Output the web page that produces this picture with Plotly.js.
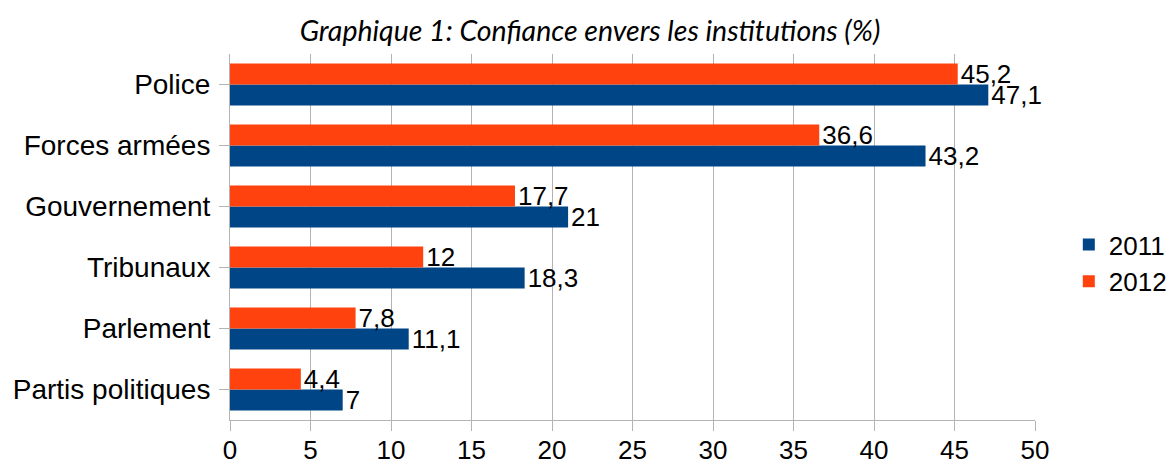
<!DOCTYPE html>
<html><head><meta charset="utf-8">
<script src="https://cdn.plot.ly/plotly-3.0.1.min.js"></script>
<style>body{margin:0;background:#fff}#chart{width:1173px;height:466px}</style>
</head><body><div id="chart"></div>
<script>
const categories = ["Partis politiques","Parlement","Tribunaux","Gouvernement","Forces armées","Police"];
const values2011 = [7, 11.1, 18.3, 21, 43.2, 47.1];
const values2012 = [4.4, 7.8, 12, 17.7, 36.6, 45.2];
const seriesNames = ["2011","2012"];
const xTicks = [0,5,10,15,20,25,30,35,40,45,50];

const fmt = v => String(v).replace('.', ',');
const fam = "Liberation Sans, Arial, sans-serif";
const font = {family: fam, size: 26, color: "#000"};

const traces = [
  {type:'bar', orientation:'h', name:seriesNames[0], y:categories, x:values2011,
   marker:{color:'#004586'}, text:values2011.map(fmt), textposition:'outside', constraintext:'none',
   textfont:font, cliponaxis:false, hoverinfo:'none'},
  {type:'bar', orientation:'h', name:seriesNames[1], y:categories, x:values2012,
   marker:{color:'#ff420e'}, text:values2012.map(fmt), textposition:'outside', constraintext:'none',
   textfont:font, cliponaxis:false, hoverinfo:'none'}
];

const layout = {
  width:1173, height:466,
  margin:{l:230, r:138, t:54, b:46, autoexpand:false},
  paper_bgcolor:'#fff', plot_bgcolor:'#fff',
  barmode:'group', bargap:0.31, bargroupgap:0,
  title:{text:'Graphique 1: Confiance envers les institutions (%)', x:0.503, xanchor:'center', y:0.933, yanchor:'middle',
         font:{family:'Lato, sans-serif', size:28.5, color:'#000', style:'italic'}},
  xaxis:{range:[0,50], tickvals:xTicks, ticktext:xTicks.map(String), showgrid:true, gridcolor:'#b3b3b3', gridwidth:1,
         showline:true, linecolor:'#b3b3b3', linewidth:1, ticks:'outside', ticklen:10, tickcolor:'#b3b3b3',
         tickfont:font, ticklabelstandoff:-3, zeroline:false, fixedrange:true},
  yaxis:{type:'category', categoryorder:'array', categoryarray:categories, showgrid:false,
         showline:true, linecolor:'#b3b3b3', linewidth:1, ticks:'outside', ticklen:10, tickcolor:'#b3b3b3',
         tickfont:{family:fam, size:28, color:'#000'}, ticklabelstandoff:3, fixedrange:true},
  legend:{x:1.042, y:0.429, xanchor:'left', yanchor:'middle', font:font, traceorder:'normal',
          itemwidth:30, tracegroupgap:0, bgcolor:'rgba(0,0,0,0)'},
  showlegend:true
};
Plotly.newPlot('chart', traces, layout, {displayModeBar:false, staticPlot:true});
</script></body></html>
